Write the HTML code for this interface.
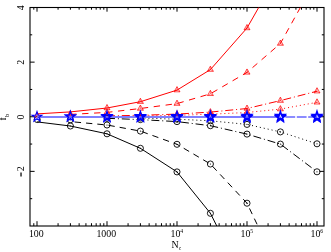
<!DOCTYPE html>
<html><head><meta charset="utf-8"><title>chart</title>
<style>html,body{margin:0;padding:0;background:#fff;}svg{display:block;font-family:"Liberation Serif",serif;}</style>
</head><body>
<svg width="331" height="252" viewBox="0 0 331 252">
<rect width="331" height="252" fill="#fff"/>
<defs><clipPath id="c"><rect x="30.0" y="7.5" width="294.0" height="218.5"/></clipPath></defs>
<path d="M33.80 226.0v-2.8M33.80 7.5v2.2M37.00 226.0v-4.8M37.00 7.5v4.2M58.07 226.0v-2.8M58.07 7.5v2.2M70.40 226.0v-2.8M70.40 7.5v2.2M79.14 226.0v-2.8M79.14 7.5v2.2M85.93 226.0v-2.8M85.93 7.5v2.2M91.47 226.0v-2.8M91.47 7.5v2.2M96.16 226.0v-2.8M96.16 7.5v2.2M100.22 226.0v-2.8M100.22 7.5v2.2M103.80 226.0v-2.8M103.80 7.5v2.2M107.00 226.0v-4.8M107.00 7.5v4.2M128.07 226.0v-2.8M128.07 7.5v2.2M140.40 226.0v-2.8M140.40 7.5v2.2M149.14 226.0v-2.8M149.14 7.5v2.2M155.93 226.0v-2.8M155.93 7.5v2.2M161.47 226.0v-2.8M161.47 7.5v2.2M166.16 226.0v-2.8M166.16 7.5v2.2M170.22 226.0v-2.8M170.22 7.5v2.2M173.80 226.0v-2.8M173.80 7.5v2.2M177.00 226.0v-4.8M177.00 7.5v4.2M198.07 226.0v-2.8M198.07 7.5v2.2M210.40 226.0v-2.8M210.40 7.5v2.2M219.14 226.0v-2.8M219.14 7.5v2.2M225.93 226.0v-2.8M225.93 7.5v2.2M231.47 226.0v-2.8M231.47 7.5v2.2M236.16 226.0v-2.8M236.16 7.5v2.2M240.22 226.0v-2.8M240.22 7.5v2.2M243.80 226.0v-2.8M243.80 7.5v2.2M247.00 226.0v-4.8M247.00 7.5v4.2M268.07 226.0v-2.8M268.07 7.5v2.2M280.40 226.0v-2.8M280.40 7.5v2.2M289.14 226.0v-2.8M289.14 7.5v2.2M295.93 226.0v-2.8M295.93 7.5v2.2M301.47 226.0v-2.8M301.47 7.5v2.2M306.16 226.0v-2.8M306.16 7.5v2.2M310.22 226.0v-2.8M310.22 7.5v2.2M313.80 226.0v-2.8M313.80 7.5v2.2M317.00 226.0v-4.8M317.00 7.5v4.2M30.0 198.68h2.2M324.0 198.68h-2.2M30.0 171.37h4.6M324.0 171.37h-4.6M30.0 144.06h2.2M324.0 144.06h-2.2M30.0 116.75h4.6M324.0 116.75h-4.6M30.0 89.44h2.2M324.0 89.44h-2.2M30.0 62.13h4.6M324.0 62.13h-4.6M30.0 34.82h2.2M324.0 34.82h-2.2" stroke="#000" stroke-width="1" fill="none"/>
<rect x="30.0" y="7.5" width="294.0" height="218.5" fill="none" stroke="#000" stroke-width="1.1"/>
<g clip-path="url(#c)" fill="none">
<path d="M37.00 121.90L70.40 126.00L107.00 133.80L140.40 148.30L177.00 171.90L210.40 213.30L247.00 286.00" stroke="#000" stroke-width="1.0"/>
<path d="M70.40 121.60L107.00 125.00L140.40 131.10L177.00 144.30L210.40 164.00L247.00 203.20L280.40 273.20" stroke="#000" stroke-width="1.0" stroke-dasharray="6.3 5" stroke-dashoffset="6.9"/>
<path d="M107.00 118.30L140.40 119.60L177.00 121.60L210.40 125.70L247.00 134.10L280.40 144.10L317.00 171.80" stroke="#000" stroke-width="1.0" stroke-dasharray="8 2.9 1 2.9"/>
<path d="M140.40 118.00L177.00 119.20L210.40 120.80L247.00 124.40L280.40 131.90L317.00 143.80" stroke="#000" stroke-width="1.0" stroke-dasharray="1 3"/>
<path d="M37.00 113.90L70.40 111.90L107.00 108.00L140.40 101.70L177.00 90.10L210.40 69.60L247.00 28.00L280.40 -30.50" stroke="#f00" stroke-width="1.0"/>
<path d="M70.40 114.40L107.00 112.40L140.40 108.50L177.00 103.60L210.40 93.80L247.00 72.40L280.40 43.50L317.00 -22.50" stroke="#f00" stroke-width="1.0" stroke-dasharray="6.4 5.6" stroke-dashoffset="0.3"/>
<path d="M107.00 115.90L140.40 115.30L177.00 114.10L210.40 112.10L247.00 108.50L280.40 100.60L317.00 91.20" stroke="#f00" stroke-width="1.0" stroke-dasharray="8 2.9 1 2.9"/>
<path d="M140.40 115.95L177.00 115.30L210.40 114.20L247.00 112.50L280.40 109.10L317.00 102.30" stroke="#f00" stroke-width="1.0" stroke-dasharray="1 3"/>
<path d="M40.25 119.50a3.05 3.05 0 1 0 -6.1 0a3.05 3.05 0 1 0 6.1 0M73.45 126.00a3.05 3.05 0 1 0 -6.1 0a3.05 3.05 0 1 0 6.1 0M110.05 133.80a3.05 3.05 0 1 0 -6.1 0a3.05 3.05 0 1 0 6.1 0M143.45 148.30a3.05 3.05 0 1 0 -6.1 0a3.05 3.05 0 1 0 6.1 0M180.05 171.90a3.05 3.05 0 1 0 -6.1 0a3.05 3.05 0 1 0 6.1 0M213.45 213.30a3.05 3.05 0 1 0 -6.1 0a3.05 3.05 0 1 0 6.1 0M250.05 286.00a3.05 3.05 0 1 0 -6.1 0a3.05 3.05 0 1 0 6.1 0M73.35 119.80a3.05 3.05 0 1 0 -6.1 0a3.05 3.05 0 1 0 6.1 0M110.05 125.00a3.05 3.05 0 1 0 -6.1 0a3.05 3.05 0 1 0 6.1 0M143.45 131.10a3.05 3.05 0 1 0 -6.1 0a3.05 3.05 0 1 0 6.1 0M180.05 144.30a3.05 3.05 0 1 0 -6.1 0a3.05 3.05 0 1 0 6.1 0M213.45 164.00a3.05 3.05 0 1 0 -6.1 0a3.05 3.05 0 1 0 6.1 0M250.05 203.20a3.05 3.05 0 1 0 -6.1 0a3.05 3.05 0 1 0 6.1 0M283.45 273.20a3.05 3.05 0 1 0 -6.1 0a3.05 3.05 0 1 0 6.1 0M110.05 118.30a3.05 3.05 0 1 0 -6.1 0a3.05 3.05 0 1 0 6.1 0M143.45 119.60a3.05 3.05 0 1 0 -6.1 0a3.05 3.05 0 1 0 6.1 0M180.05 121.60a3.05 3.05 0 1 0 -6.1 0a3.05 3.05 0 1 0 6.1 0M213.45 125.70a3.05 3.05 0 1 0 -6.1 0a3.05 3.05 0 1 0 6.1 0M250.05 134.10a3.05 3.05 0 1 0 -6.1 0a3.05 3.05 0 1 0 6.1 0M283.45 144.10a3.05 3.05 0 1 0 -6.1 0a3.05 3.05 0 1 0 6.1 0M320.05 171.80a3.05 3.05 0 1 0 -6.1 0a3.05 3.05 0 1 0 6.1 0M143.45 118.00a3.05 3.05 0 1 0 -6.1 0a3.05 3.05 0 1 0 6.1 0M180.05 119.20a3.05 3.05 0 1 0 -6.1 0a3.05 3.05 0 1 0 6.1 0M213.45 120.80a3.05 3.05 0 1 0 -6.1 0a3.05 3.05 0 1 0 6.1 0M250.05 124.40a3.05 3.05 0 1 0 -6.1 0a3.05 3.05 0 1 0 6.1 0M283.45 131.90a3.05 3.05 0 1 0 -6.1 0a3.05 3.05 0 1 0 6.1 0M320.05 143.80a3.05 3.05 0 1 0 -6.1 0a3.05 3.05 0 1 0 6.1 0" stroke="#000" stroke-width="0.9"/>
<path d="M37.80 119.50a0.6 0.6 0 1 0 -1.2 0a0.6 0.6 0 1 0 1.2 0M71.00 126.00a0.6 0.6 0 1 0 -1.2 0a0.6 0.6 0 1 0 1.2 0M107.60 133.80a0.6 0.6 0 1 0 -1.2 0a0.6 0.6 0 1 0 1.2 0M141.00 148.30a0.6 0.6 0 1 0 -1.2 0a0.6 0.6 0 1 0 1.2 0M177.60 171.90a0.6 0.6 0 1 0 -1.2 0a0.6 0.6 0 1 0 1.2 0M211.00 213.30a0.6 0.6 0 1 0 -1.2 0a0.6 0.6 0 1 0 1.2 0M247.60 286.00a0.6 0.6 0 1 0 -1.2 0a0.6 0.6 0 1 0 1.2 0M70.90 119.80a0.6 0.6 0 1 0 -1.2 0a0.6 0.6 0 1 0 1.2 0M107.60 125.00a0.6 0.6 0 1 0 -1.2 0a0.6 0.6 0 1 0 1.2 0M141.00 131.10a0.6 0.6 0 1 0 -1.2 0a0.6 0.6 0 1 0 1.2 0M177.60 144.30a0.6 0.6 0 1 0 -1.2 0a0.6 0.6 0 1 0 1.2 0M211.00 164.00a0.6 0.6 0 1 0 -1.2 0a0.6 0.6 0 1 0 1.2 0M247.60 203.20a0.6 0.6 0 1 0 -1.2 0a0.6 0.6 0 1 0 1.2 0M281.00 273.20a0.6 0.6 0 1 0 -1.2 0a0.6 0.6 0 1 0 1.2 0M107.60 118.30a0.6 0.6 0 1 0 -1.2 0a0.6 0.6 0 1 0 1.2 0M141.00 119.60a0.6 0.6 0 1 0 -1.2 0a0.6 0.6 0 1 0 1.2 0M177.60 121.60a0.6 0.6 0 1 0 -1.2 0a0.6 0.6 0 1 0 1.2 0M211.00 125.70a0.6 0.6 0 1 0 -1.2 0a0.6 0.6 0 1 0 1.2 0M247.60 134.10a0.6 0.6 0 1 0 -1.2 0a0.6 0.6 0 1 0 1.2 0M281.00 144.10a0.6 0.6 0 1 0 -1.2 0a0.6 0.6 0 1 0 1.2 0M317.60 171.80a0.6 0.6 0 1 0 -1.2 0a0.6 0.6 0 1 0 1.2 0M141.00 118.00a0.6 0.6 0 1 0 -1.2 0a0.6 0.6 0 1 0 1.2 0M177.60 119.20a0.6 0.6 0 1 0 -1.2 0a0.6 0.6 0 1 0 1.2 0M211.00 120.80a0.6 0.6 0 1 0 -1.2 0a0.6 0.6 0 1 0 1.2 0M247.60 124.40a0.6 0.6 0 1 0 -1.2 0a0.6 0.6 0 1 0 1.2 0M281.00 131.90a0.6 0.6 0 1 0 -1.2 0a0.6 0.6 0 1 0 1.2 0M317.60 143.80a0.6 0.6 0 1 0 -1.2 0a0.6 0.6 0 1 0 1.2 0" fill="#000" stroke="none"/>
<path d="M37.10 111.95L34.11 117.12L40.09 117.12ZM70.30 110.55L67.31 115.72L73.29 115.72ZM107.00 104.55L104.01 109.72L109.99 109.72ZM140.40 98.25L137.41 103.42L143.39 103.42ZM177.00 86.65L174.01 91.82L179.99 91.82ZM210.40 66.15L207.41 71.32L213.39 71.32ZM247.00 24.55L244.01 29.73L249.99 29.73ZM280.40 -33.95L277.41 -28.77L283.39 -28.77ZM70.30 112.05L67.31 117.22L73.29 117.22ZM107.00 108.95L104.01 114.12L109.99 114.12ZM140.40 105.05L137.41 110.22L143.39 110.22ZM177.00 100.15L174.01 105.32L179.99 105.32ZM210.40 90.35L207.41 95.52L213.39 95.52ZM247.00 68.95L244.01 74.12L249.99 74.12ZM280.40 40.05L277.41 45.23L283.39 45.23ZM317.00 -25.95L314.01 -20.77L319.99 -20.77ZM107.00 112.45L104.01 117.62L109.99 117.62ZM140.40 111.85L137.41 117.02L143.39 117.02ZM177.00 110.65L174.01 115.82L179.99 115.82ZM210.40 108.65L207.41 113.82L213.39 113.82ZM247.00 105.05L244.01 110.22L249.99 110.22ZM280.40 97.15L277.41 102.32L283.39 102.32ZM317.00 87.75L314.01 92.92L319.99 92.92ZM140.40 112.50L137.41 117.67L143.39 117.67ZM177.00 111.85L174.01 117.02L179.99 117.02ZM210.40 110.75L207.41 115.92L213.39 115.92ZM247.00 109.05L244.01 114.22L249.99 114.22ZM280.40 105.65L277.41 110.82L283.39 110.82ZM317.00 98.85L314.01 104.02L319.99 104.02Z" stroke="#f00" stroke-width="0.65" fill="#f00" fill-opacity="0.08"/>
<path d="M37.10 115.40L37.10 111.95M37.10 115.40L34.11 117.12M37.10 115.40L40.09 117.12M70.30 114.00L70.30 110.55M70.30 114.00L67.31 115.72M70.30 114.00L73.29 115.72M107.00 108.00L107.00 104.55M107.00 108.00L104.01 109.72M107.00 108.00L109.99 109.72M140.40 101.70L140.40 98.25M140.40 101.70L137.41 103.42M140.40 101.70L143.39 103.42M177.00 90.10L177.00 86.65M177.00 90.10L174.01 91.82M177.00 90.10L179.99 91.82M210.40 69.60L210.40 66.15M210.40 69.60L207.41 71.32M210.40 69.60L213.39 71.32M247.00 28.00L247.00 24.55M247.00 28.00L244.01 29.73M247.00 28.00L249.99 29.73M280.40 -30.50L280.40 -33.95M280.40 -30.50L277.41 -28.77M280.40 -30.50L283.39 -28.77M70.30 115.50L70.30 112.05M70.30 115.50L67.31 117.22M70.30 115.50L73.29 117.22M107.00 112.40L107.00 108.95M107.00 112.40L104.01 114.12M107.00 112.40L109.99 114.12M140.40 108.50L140.40 105.05M140.40 108.50L137.41 110.22M140.40 108.50L143.39 110.22M177.00 103.60L177.00 100.15M177.00 103.60L174.01 105.32M177.00 103.60L179.99 105.32M210.40 93.80L210.40 90.35M210.40 93.80L207.41 95.52M210.40 93.80L213.39 95.52M247.00 72.40L247.00 68.95M247.00 72.40L244.01 74.12M247.00 72.40L249.99 74.12M280.40 43.50L280.40 40.05M280.40 43.50L277.41 45.23M280.40 43.50L283.39 45.23M317.00 -22.50L317.00 -25.95M317.00 -22.50L314.01 -20.77M317.00 -22.50L319.99 -20.77M107.00 115.90L107.00 112.45M107.00 115.90L104.01 117.62M107.00 115.90L109.99 117.62M140.40 115.30L140.40 111.85M140.40 115.30L137.41 117.02M140.40 115.30L143.39 117.02M177.00 114.10L177.00 110.65M177.00 114.10L174.01 115.82M177.00 114.10L179.99 115.82M210.40 112.10L210.40 108.65M210.40 112.10L207.41 113.82M210.40 112.10L213.39 113.82M247.00 108.50L247.00 105.05M247.00 108.50L244.01 110.22M247.00 108.50L249.99 110.22M280.40 100.60L280.40 97.15M280.40 100.60L277.41 102.32M280.40 100.60L283.39 102.32M317.00 91.20L317.00 87.75M317.00 91.20L314.01 92.92M317.00 91.20L319.99 92.92M140.40 115.95L140.40 112.50M140.40 115.95L137.41 117.67M140.40 115.95L143.39 117.67M177.00 115.30L177.00 111.85M177.00 115.30L174.01 117.02M177.00 115.30L179.99 117.02M210.40 114.20L210.40 110.75M210.40 114.20L207.41 115.92M210.40 114.20L213.39 115.92M247.00 112.50L247.00 109.05M247.00 112.50L244.01 114.22M247.00 112.50L249.99 114.22M280.40 109.10L280.40 105.65M280.40 109.10L277.41 110.82M280.40 109.10L283.39 110.82M317.00 102.30L317.00 98.85M317.00 102.30L314.01 104.02M317.00 102.30L319.99 104.02" stroke="#f00" stroke-width="0.45"/>
</g>
<g fill="none">
<path d="M37.00 117.0L317.00 117.0" stroke="#fff" stroke-width="1.4"/>
<path d="M37.00 117.0L280.40 117.0" stroke="#00f" stroke-width="1.15"/>
<path d="M285.4 117.0L317.00 117.0" stroke="#00f" stroke-width="1.0" stroke-dasharray="9.8 1.6" opacity="0.9"/>
<path d="M37.00 111.60L38.17 115.19L41.95 115.19L38.89 117.41L40.06 121.01L37.00 118.79L33.94 121.01L35.11 117.41L32.05 115.19L35.83 115.19ZM70.40 111.60L71.57 115.19L75.34 115.19L72.29 117.41L73.45 121.01L70.40 118.79L67.34 121.01L68.51 117.41L65.45 115.19L69.23 115.19ZM107.00 111.60L108.17 115.19L111.95 115.19L108.89 117.41L110.06 121.01L107.00 118.79L103.94 121.01L105.11 117.41L102.05 115.19L105.83 115.19ZM140.40 111.60L141.57 115.19L145.34 115.19L142.29 117.41L143.45 121.01L140.40 118.79L137.34 121.01L138.51 117.41L135.45 115.19L139.23 115.19ZM177.00 111.60L178.17 115.19L181.95 115.19L178.89 117.41L180.06 121.01L177.00 118.79L173.94 121.01L175.11 117.41L172.05 115.19L175.83 115.19ZM210.40 111.60L211.57 115.19L215.34 115.19L212.29 117.41L213.45 121.01L210.40 118.79L207.34 121.01L208.51 117.41L205.45 115.19L209.23 115.19ZM247.00 111.60L248.17 115.19L251.95 115.19L248.89 117.41L250.06 121.01L247.00 118.79L243.94 121.01L245.11 117.41L242.05 115.19L245.83 115.19ZM280.40 111.60L281.57 115.19L285.34 115.19L282.29 117.41L283.45 121.01L280.40 118.79L277.34 121.01L278.51 117.41L275.45 115.19L279.23 115.19ZM70.40 111.15L71.57 114.75L75.34 114.75L72.29 116.97L73.45 120.56L70.40 118.34L67.34 120.56L68.51 116.97L65.45 114.75L69.23 114.75ZM107.00 111.07L108.17 114.67L111.95 114.67L108.89 116.89L110.06 120.48L107.00 118.26L103.94 120.48L105.11 116.89L102.05 114.67L105.83 114.67ZM140.40 111.00L141.57 114.60L145.34 114.60L142.29 116.82L143.45 120.41L140.40 118.19L137.34 120.41L138.51 116.82L135.45 114.60L139.23 114.60ZM177.00 110.92L178.17 114.52L181.95 114.52L178.89 116.74L180.06 120.33L177.00 118.11L173.94 120.33L175.11 116.74L172.05 114.52L175.83 114.52ZM210.40 110.85L211.57 114.45L215.34 114.45L212.29 116.67L213.45 120.26L210.40 118.04L207.34 120.26L208.51 116.67L205.45 114.45L209.23 114.45ZM247.00 110.77L248.17 114.37L251.95 114.37L248.89 116.59L250.06 120.18L247.00 117.96L243.94 120.18L245.11 116.59L242.05 114.37L245.83 114.37ZM280.40 110.70L281.57 114.30L285.34 114.30L282.29 116.52L283.45 120.11L280.40 117.89L277.34 120.11L278.51 116.52L275.45 114.30L279.23 114.30ZM317.00 110.62L318.17 114.22L321.95 114.22L318.89 116.44L320.06 120.03L317.00 117.81L313.94 120.03L315.11 116.44L312.05 114.22L315.83 114.22ZM107.00 112.05L108.17 115.64L111.95 115.64L108.89 117.86L110.06 121.46L107.00 119.24L103.94 121.46L105.11 117.86L102.05 115.64L105.83 115.64ZM140.40 112.12L141.57 115.71L145.34 115.71L142.29 117.94L143.45 121.53L140.40 119.31L137.34 121.53L138.51 117.94L135.45 115.71L139.23 115.71ZM177.00 112.20L178.17 115.79L181.95 115.79L178.89 118.01L180.06 121.61L177.00 119.39L173.94 121.61L175.11 118.01L172.05 115.79L175.83 115.79ZM210.40 112.27L211.57 115.86L215.34 115.86L212.29 118.09L213.45 121.68L210.40 119.46L207.34 121.68L208.51 118.09L205.45 115.86L209.23 115.86ZM247.00 112.35L248.17 115.94L251.95 115.94L248.89 118.16L250.06 121.76L247.00 119.54L243.94 121.76L245.11 118.16L242.05 115.94L245.83 115.94ZM280.40 112.42L281.57 116.01L285.34 116.01L282.29 118.24L283.45 121.83L280.40 119.61L277.34 121.83L278.51 118.24L275.45 116.01L279.23 116.01ZM317.00 112.50L318.17 116.09L321.95 116.09L318.89 118.31L320.06 121.91L317.00 119.69L313.94 121.91L315.11 118.31L312.05 116.09L315.83 116.09ZM140.40 111.70L141.57 115.29L145.34 115.29L142.29 117.51L143.45 121.11L140.40 118.89L137.34 121.11L138.51 117.51L135.45 115.29L139.23 115.29ZM177.00 111.70L178.17 115.29L181.95 115.29L178.89 117.51L180.06 121.11L177.00 118.89L173.94 121.11L175.11 117.51L172.05 115.29L175.83 115.29ZM210.40 111.70L211.57 115.29L215.34 115.29L212.29 117.51L213.45 121.11L210.40 118.89L207.34 121.11L208.51 117.51L205.45 115.29L209.23 115.29ZM247.00 111.70L248.17 115.29L251.95 115.29L248.89 117.51L250.06 121.11L247.00 118.89L243.94 121.11L245.11 117.51L242.05 115.29L245.83 115.29ZM280.40 111.70L281.57 115.29L285.34 115.29L282.29 117.51L283.45 121.11L280.40 118.89L277.34 121.11L278.51 117.51L275.45 115.29L279.23 115.29ZM317.00 111.70L318.17 115.29L321.95 115.29L318.89 117.51L320.06 121.11L317.00 118.89L313.94 121.11L315.11 117.51L312.05 115.29L315.83 115.29Z" stroke="#00f" stroke-width="1.1" stroke-linejoin="miter"/>
</g>
<g font-family="Liberation Serif, serif" font-size="9.9" fill="#000" text-anchor="middle" opacity="0.999">
<text x="36.3" y="236.7">100</text>
<text x="106.3" y="236.7">1000</text>
<text x="176.8" y="236.7">10<tspan font-size="5.6" dy="-3.5">4</tspan></text>
<text x="246.8" y="236.7">10<tspan font-size="5.6" dy="-3.5">5</tspan></text>
<text x="316.8" y="236.7">10<tspan font-size="5.6" dy="-3.5">6</tspan></text>
<text x="176.4" y="247.6">N<tspan font-size="5.6" dy="2.7">c</tspan></text>
<text transform="translate(23.6 7.8) rotate(-90)">4</text>
<text transform="translate(23.6 62.4) rotate(-90)">2</text>
<text transform="translate(23.6 117.0) rotate(-90)">0</text>
<text transform="translate(23.6 171.2) rotate(-90)" text-anchor="start">2</text>
<rect x="20.4" y="172.5" width="1.25" height="4.0" fill="#000"/>
<text transform="translate(6.2 120.4) rotate(-90)" text-anchor="start">f<tspan font-size="6" dy="2.8">b</tspan></text>
</g>
</svg>
</body></html>
